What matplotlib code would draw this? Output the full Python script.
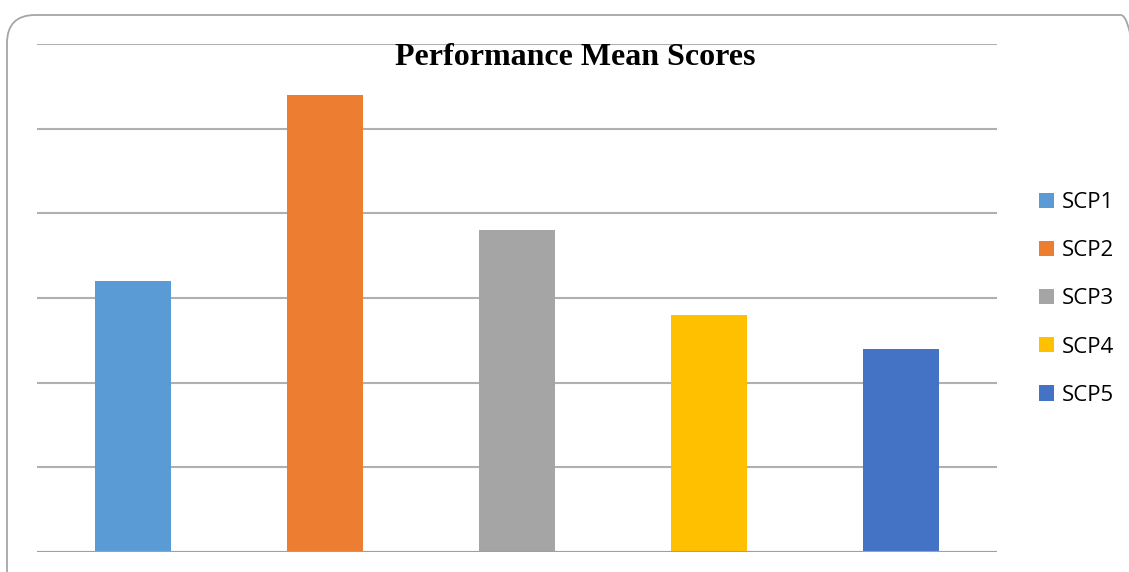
import matplotlib
matplotlib.use("Agg")
import matplotlib.pyplot as plt
from matplotlib.patches import FancyBboxPatch, Patch

categories = ["SCP1", "SCP2", "SCP3", "SCP4", "SCP5"]
values = [3.2, 5.4, 3.8, 2.8, 2.4]
colors = ["#5B9BD5", "#ED7D31", "#A5A5A5", "#FFC000", "#4472C4"]
title = "Performance Mean Scores"

W, H = 1129, 572
fig = plt.figure(figsize=(W / 100, H / 100), dpi=100)

# rounded outer frame
frame = FancyBboxPatch((7 / W, -30 / H), (W + 20 - 7) / W, (H - 15 + 30) / H,
                       boxstyle="round,pad=0,rounding_size=0.025",
                       transform=fig.transFigure, fill=False,
                       edgecolor="#A6A6A6", linewidth=1.3, mutation_aspect=W / H)
fig.patches.append(frame)

ax = fig.add_axes([37 / W, (H - 552) / H, 960 / W, (552 - 44) / H])
x = list(range(len(categories)))
ax.bar(x, values, width=0.4, color=colors, zorder=3)
ax.set_xlim(-0.5, len(categories) - 0.5)
ax.set_ylim(0, 6)
ax.set_yticks(range(0, 7))
ax.grid(axis="y", color="#B0B0B0", linewidth=1.5, zorder=0)
ax.tick_params(left=False, bottom=False, labelleft=False, labelbottom=False)
for s in ax.spines.values():
    s.set_visible(False)
ax.axhline(0, color="#A0A0A0", linewidth=1.5, zorder=4)

fig.text(575 / W, 1 - 65 / H, title, ha="center", va="baseline",
         fontsize=23, fontweight="bold", family="Liberation Serif")

handles = [Patch(facecolor=c, edgecolor="none") for c in colors]
fig.legend(handles, categories, loc="center left",
           bbox_to_anchor=(1039 / W, 1 - 299 / H), frameon=False,
           prop={"family": "Open Sans", "size": 16},
           handlelength=0.68, handleheight=0.68, handletextpad=0.35,
           labelspacing=1.22, borderaxespad=0, borderpad=0)

fig.savefig("out.png", dpi=100)
